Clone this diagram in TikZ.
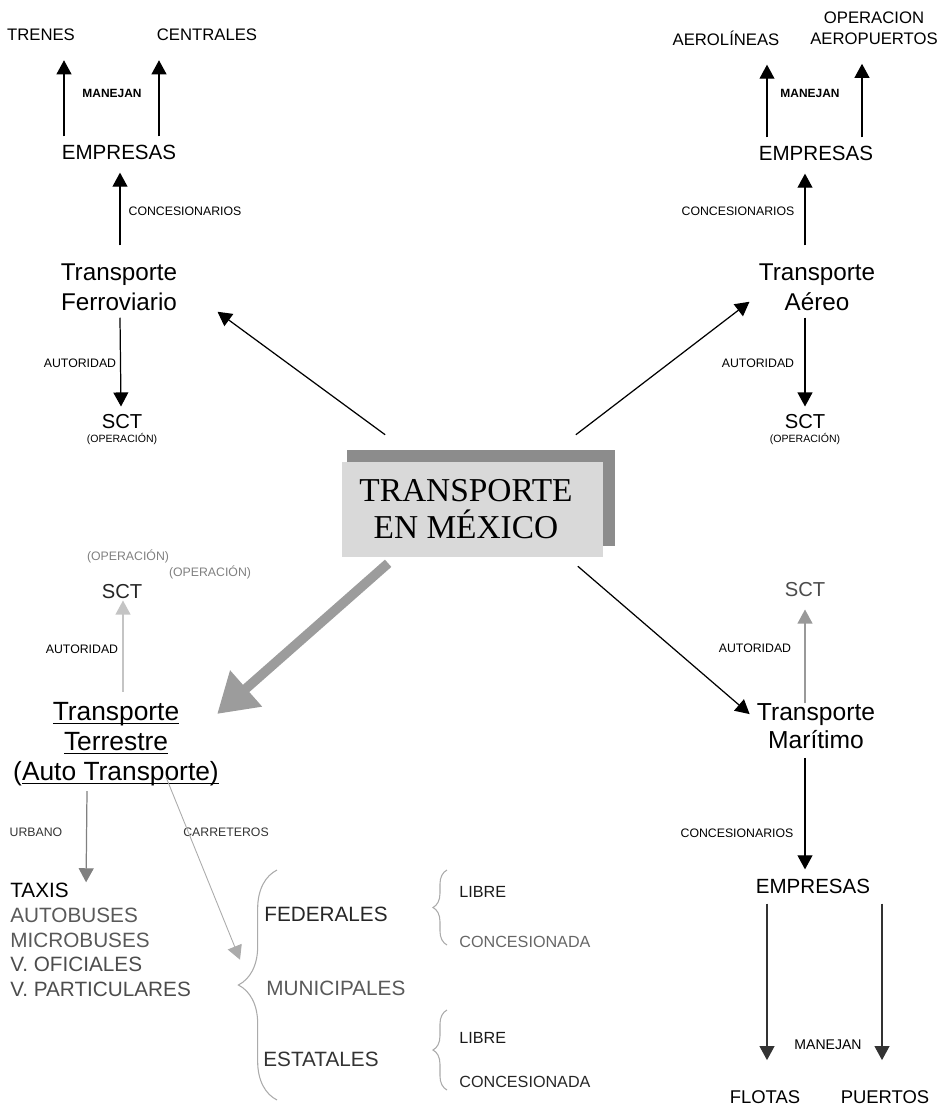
\documentclass[tikz,border=0pt]{standalone}
\usepackage{fontspec}
\setmainfont{Liberation Sans}
\newfontfamily\titlefont{Liberation Serif}
\usetikzlibrary{arrows.meta,calc,decorations.pathreplacing}
\definecolor{boxgray}{HTML}{D9D9D9}
\definecolor{shadegray}{HTML}{8C8C8C}
\definecolor{arrgray}{HTML}{9C9C9C}
\definecolor{linegray}{HTML}{ABABAB}
\newcommand\ulin[1]{\setbox0=\hbox{#1}\rlap{\rule[-2.2pt]{\wd0}{0.7pt}}\box0}
\tikzset{
  every node/.style={inner sep=0pt},
  arr/.style={-{Triangle[length=8pt,width=8.5pt]}, line width=0.7pt},
  garr/.style={arr, draw=linegray},
  lab/.style={font=\fontsize{7}{8}\selectfont},
  ope/.style={font=\fontsize{6}{7}\selectfont},
  tip/.style={font=\fontsize{9.5}{12}\selectfont, align=center},
  emp/.style={font=\fontsize{11.7}{14}\selectfont},
  sct/.style={font=\fontsize{11.5}{14}\selectfont},
  trn/.style={font=\fontsize{13.8}{17}\selectfont, align=center},
  lst/.style={font=\fontsize{11.8}{14}\selectfont, anchor=west},
  sub/.style={font=\fontsize{9.2}{11}\selectfont, anchor=west},
  brc/.style={decorate, decoration={brace, amplitude=#1}, draw=linegray, line width=0.6pt}
}
\begin{document}
\begin{tikzpicture}[x=0.02cm, y=-0.02cm]
\useasboundingbox (0,0) rectangle (945,1112);

\fill[shadegray] (347,450) rectangle (615,546);
\node (box) [fill=boxgray, minimum width=148pt, minimum height=54pt] at (472.5,509.5) {};
\node (title) [font=\titlefont\fontsize{19}{21.5}\selectfont, align=center] at (466,509) {TRANSPORTE\\EN MÉXICO};

\node[tip] (tren) at (41,35) {TRENES};
\node[tip] (cent) at (207,35) {CENTRALES};
\node[lab, font=\bfseries\fontsize{6.8}{8}\selectfont] (manf) at (112,93) {MANEJAN};
\node[emp] (empf) at (119,152) {EMPRESAS};
\node[lab] (conf) at (185,211) {CONCESIONARIOS};
\node[trn] (ferro) at (119,287) {Transporte\\Ferroviario};
\node[lab] (autf) at (80,363) {AUTORIDAD};
\node[sct] (sctf) at (122,422) {SCT};
\node[ope] (opef) at (122,439) {(OPERACIÓN)};

\draw[arr] ($(empf.north)+(-55,-8)$) -- ($(tren.south)+(23,19)$);
\draw[arr] ($(empf.north)+(40,-8)$) -- ($(cent.south)+(-48,19)$);
\draw[arr] ($(ferro.north)+(1,-18)$) -- ($(empf.south)+(1,13)$);
\draw[arr] ($(ferro.south)+(1,7)$) -- ($(sctf.north)+(-1,-8)$);

\node[tip] (aero) at (726,38) {AEROLÍNEAS};
\node[tip] (opaer) at (874,28) {OPERACION\\AEROPUERTOS};
\node[lab, font=\bfseries\fontsize{6.8}{8}\selectfont] (mana) at (810,93) {MANEJAN};
\node[emp] (empa) at (816,153) {EMPRESAS};
\node[lab] (cona) at (738,211) {CONCESIONARIOS};
\node[trn] (aereo) at (817,287) {Transporte\\Aéreo};
\node[lab] (auta) at (758,363) {AUTORIDAD};
\node[sct] (scta) at (805,422) {SCT};
\node[ope] (opea) at (805,439) {(OPERACIÓN)};

\draw[arr] ($(empa.north)+(-49,-8)$) -- ($(aero.south)+(41,19)$);
\draw[arr] ($(empa.north)+(46,-8)$) -- ($(opaer.south)+(-12,19)$);
\draw[arr] ($(aereo.north)+(-12,-18)$) -- ($(empa.south)+(-11,13)$);
\draw[arr] ($(aereo.south)+(-12,7)$) -- ($(scta.north)+(0,-8)$);

\node[trn, font=\fontsize{15}{17}\selectfont] (terr) at (116,744) {\ulin{Transporte}\\\ulin{Terrestre}\\(\ulin{Auto Transporte)}};
\node[ope, text=gray, font=\fontsize{7}{8}\selectfont] (opt1) at (128,556) {(OPERACIÓN)};
\node[ope, text=gray, font=\fontsize{7}{8}\selectfont] (opt2) at (210,572) {(OPERACIÓN)};
\node[sct, text=black!85] (sctt) at (122,592) {SCT};
\node[lab] (autt) at (82,649) {AUTORIDAD};
\node[lab, text=black!80] (urb) at (36,832) {URBANO};
\node[lab, text=black!80] (carr) at (226,832) {CARRETEROS};

\node[lst] (taxis) at (10,890) {TAXIS};
\node[lst, text=black!65] (autob) at (10,915) {AUTOBUSES};
\node[lst, text=black!65] (micro) at (10,940) {MICROBUSES};
\node[lst, text=black!70] (vofi) at (10,964) {V. OFICIALES};
\node[lst, text=black!70] (vpart) at (10,989) {V. PARTICULARES};

\node[lst, text=black!85] (fed) at (264,914) {FEDERALES};
\node[lst, text=black!65] (mun) at (266,988) {MUNICIPALES};
\node[lst, text=black!80] (est) at (263,1059) {ESTATALES};
\draw[brc=22pt] (277,1100) -- (277,870);
\draw[brc=8pt] (447,945) -- (447,870);
\draw[brc=8pt] (447,1090) -- (447,1010);
\node[sub, text=black!90] (lib1) at (459,892) {LIBRE};
\node[sub, text=black!60] (con1) at (459,942) {CONCESIONADA};
\node[sub, text=black!90] (lib2) at (459,1038) {LIBRE};
\node[sub, text=black!85] (con2) at (459,1082) {CONCESIONADA};

\draw[garr, draw=linegray!70] ($(terr.north)+(7,-10)$) -- ($(sctt.south)+(1,1)$);
\draw[garr, draw=gray] ($(terr.south)+(-29,5)$) -- ($(taxis.north east)+(17,0)$);
\draw[garr, line width=0.5pt] ($(terr.south)+(50,-9)$) -- ($(fed.south west)+(-24,38)$);

\node[sct, text=black!70] (sctm) at (805,590) {SCT};
\node[lab] (autm) at (755,648) {AUTORIDAD};
\node[trn, font=\fontsize{14}{15.9}\selectfont] (marit) at (816,726) {Transporte\\Marítimo};
\node[lab] (conm) at (737,833) {CONCESIONARIOS};
\node[emp] (empm) at (813,886) {EMPRESAS};
\node[lab, font=\fontsize{8}{9}\selectfont] (manm) at (828,1045) {MANEJAN};
\node[tip, font=\fontsize{10.5}{12}\selectfont] (flot) at (765,1097) {FLOTAS};
\node[tip, font=\fontsize{10.5}{12}\selectfont] (puer) at (885,1097) {PUERTOS};

\draw[garr, draw=gray!80] ($(marit.north)+(-11,0)$) -- ($(sctm.south)+(0,12)$);
\draw[arr] ($(marit.south)+(-11,9)$) -- ($(empm.north)+(-8,-9)$);
\draw[arr, draw=black!80] ($(empm.south)+(-46,10)$) -- ($(flot.north)+(2,-30)$);
\draw[arr, draw=black!80] ($(empm.south)+(69,10)$) -- ($(puer.north)+(-3,-30)$);

\draw[arr] ($(box.north west)+(43,-27)$) -- ($(ferro.south east)+(40,1)$);
\draw[arr] ($(box.north east)+(-27,-27)$) -- ($(aereo.south west)+(-9,-9)$);
\draw[arr] ($(box.south east)+(-25,9)$) -- ($(marit.north west)+(-7,11)$);
\draw[line width=5.5pt, draw=arrgray, -{Triangle[length=22pt,width=26pt]}] ($(box.south west)+(46,6)$) -- ($(terr.north east)+(-2,12)$);
\end{tikzpicture}
\end{document}
